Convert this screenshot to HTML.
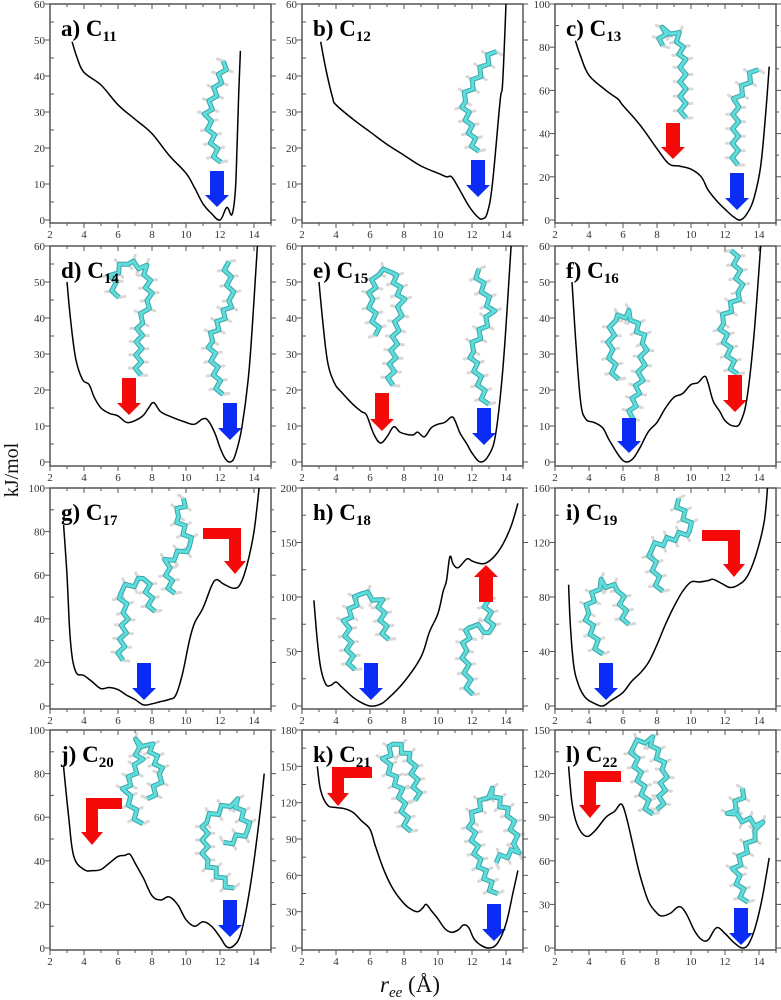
<!DOCTYPE html>
<html><head><meta charset="utf-8"><style>
html,body{margin:0;padding:0;background:#fff;}
svg{display:block;}
text{font-family:"Liberation Serif",serif;}
</style></head><body>
<svg id="fig" width="781" height="1000" viewBox="0 0 781 1000" xmlns="http://www.w3.org/2000/svg">
<text x="0" y="0" transform="translate(18,470) rotate(-90)" font-size="20" text-anchor="middle" fill="#111">kJ/mol</text>
<text x="410" y="992" font-size="23" text-anchor="middle" fill="#111"><tspan font-style="italic">r</tspan><tspan font-style="italic" font-size="15" dy="5">ee</tspan><tspan dy="-5"> (Å)</tspan></text>
</svg>
<script>
// ---- data (x in Å, y in kJ/mol) ----
const panelLabels = ["a","b","c","d","e","f","g","h","i","j","k","l"];
const chainLengths = ["11","12","13","14","15","16","17","18","19","20","21","22"];
const yMaxes = [60,60,100,60,60,60,100,200,160,100,180,150];
const yMajorSteps = [10,10,20,10,10,10,20,50,40,20,30,30];
const xTicks = [2,4,6,8,10,12,14];
const xA=[3.3,3.6,4,5,6,7,8,9,10,10.5,11,11.5,12,12.4,12.7,12.9,13.0,13.1,13.2];
const yA=[49.5,45,41,37.5,32,28,24,18,13,9,4.5,1.8,0,3.5,1.5,8,20,35,47];
const xB=[3.1,3.4,3.8,4,5,6,7,8,9,10,10.5,10.8,11.2,11.8,12.3,12.6,12.9,13.2,13.65,13.8,14.0];
const yB=[49.5,42,34,32,28,24.5,21,18,15,13,12,12,9,4,1,0.3,2,10,33,38,60];
const xC=[3.2,3.5,4,5,5.7,6,7,8,8.7,9.3,10,10.6,11,11.5,12,12.5,12.9,13.3,13.7,14.1,14.4,14.6];
const yC=[83,76,67,60,56,53,44,33,26,25,23.5,20,14,9,5,1.5,0,3,10,25,50,71];
const xD=[3.0,3.2,3.5,3.9,4.3,4.6,5,5.5,6,6.5,7,7.5,7.8,8.1,8.5,9,10,10.5,11,11.3,11.7,12,12.3,12.6,12.9,13.3,13.7,14.0,14.2];
const yD=[50,40,29,23,21.5,18,15,13.5,12.8,11,11.5,13,15,16.5,14,12.8,11,10.5,12,11.5,8,4,1,0,2,10,25,45,60];
const xE=[3.0,3.2,3.5,3.9,4.3,5,5.5,5.8,6.2,6.6,7,7.4,7.8,8.5,8.8,9.2,9.6,10,10.4,10.8,11,11.3,11.7,12,12.5,13,13.4,13.8,14.1,14.3];
const yE=[50,40,28,22,19.5,16,14,13,8,5.3,7,9.8,8.2,7.5,8.3,7,9.5,10.5,11,12.5,11.5,8,5,2.5,0,2,8,25,45,60];
const xF=[3.0,3.2,3.5,3.8,4.3,4.8,5.2,5.8,6.2,6.6,7,7.5,8,8.5,9,9.5,10,10.4,10.8,11,11.3,11.7,12,12.5,12.9,13.3,13.7,14.1];
const yF=[50,35,17,12,11,9.5,6,1.5,0,1,4,8.5,11,15,18,19,21.5,22,23.8,22,17,14,11.5,10,11,18,35,60];
const xG=[2.8,3,3.2,3.5,4,4.5,5,5.5,6,6.5,7,7.5,8,8.5,9,9.4,9.8,10.2,10.5,11,11.5,11.8,12.2,12.8,13.2,13.6,14,14.3];
const yG=[83,60,30,16,14,11,8,8.5,7.5,5,3,0.5,1,2,3,5,15,30,38,45,55,58,56,54,56,65,80,100];
const xH=[2.7,2.9,3.1,3.4,3.7,4,4.3,5,5.5,6,6.5,7,8,9,9.5,10,10.3,10.5,10.7,10.9,11.2,11.7,12,12.4,12.8,13.3,13.8,14.3,14.7];
const yH=[97,60,35,20,19,22,18,8,3,0,1,6,22,45,68,85,105,115,137,130,127,135,133,131,131,137,148,165,186];
const xI=[2.8,2.9,3.1,3.4,3.8,4.3,4.8,5.3,6,6.5,7,7.5,8,8.5,9,9.5,10,10.5,11,11.3,11.8,12.3,12.8,13.3,13.8,14.3,14.5];
const yI=[89,60,30,15,6,2,0,4,10,18,24,32,45,60,73,84,91,91,92,93,90,87,89,95,110,135,160];
const xJ=[2.8,3.1,3.4,4,4.5,5,5.5,6,6.4,6.7,7,7.5,8,8.5,9,9.5,10,10.5,11,11.5,12,12.4,12.8,13.2,13.6,14.0,14.4,14.6];
const yJ=[83,60,42,36,35.5,36,39,42,42.5,43,39,32,24,22,23.5,20,13,10,12,10,5,0.5,1,6,20,40,65,80];
const xK=[2.9,3.1,3.5,4,4.5,5,5.5,6,6.3,6.8,7.3,7.8,8.3,8.8,9.1,9.3,9.6,10,10.4,10.8,11.2,11.5,11.8,12.1,12.5,13,13.5,14,14.4,14.7];
const yK=[150,130,118,116,115,112,105,98,85,65,50,40,33,30,33,36,31,24,16,13,15,19,17,8,2.5,0,4,20,45,64];
const xL=[2.8,3,3.3,3.8,4.3,5,5.5,5.9,6.2,6.6,7,7.5,8,8.3,8.8,9.3,9.7,10.2,10.6,11,11.5,12,12.5,13,13.4,13.8,14.2,14.6];
const yL=[125,100,85,77,80,90,94,99,90,70,50,32,24,22,24,28.5,24,12,6,5.5,14,10,4,0,3,15,35,62];
const seriesX=[xA,xB,xC,xD,xE,xF,xG,xH,xI,xJ,xK,xL];
const seriesY=[yA,yB,yC,yD,yE,yF,yG,yH,yI,yJ,yK,yL];

// ---- layout ----
const NS="http://www.w3.org/2000/svg";
const svg=document.getElementById('fig');
const colLeft=[50,302,555], boxW=221;
const rowTop=[4,246,488,730], rowZero=[220,462,706,948], rowBot=[223,466,709,950];
function mk(tag,attrs,parent){const e=document.createElementNS(NS,tag);for(const k in attrs)e.setAttribute(k,attrs[k]);(parent||svg).appendChild(e);return e;}

const blueArrows=[[217,171,207],[478,160,197],[737,173,210],[230,403,440],[484,408,445],[629,418,453],[144,663,700],[371,663,700],[606,663,700],[230,900,937],[494,904,941],[741,908,945]];
const redDown=[[673,123,159],[129,378,415],[382,393,431],[735,375,412]];
const molecules=[
 [[218,163],[207,115],[226,62]],
 [[476,152],[463,100],[494,50]],
 [[683,118],[683,60],[678,35],[665,28],[660,45]],
 [[735,165],[736,100],[756,68]],
 [[138,375],[140,322],[150,300],[146,268],[126,262],[112,275],[116,298]],
 [[220,395],[210,340],[232,300],[226,262]],
 [[390,385],[396,330],[402,300],[392,270],[376,274],[370,300],[378,335]],
 [[486,405],[471,350],[492,312],[476,270]],
 [[630,418],[640,380],[645,342],[630,313],[613,320],[610,350],[616,380]],
 [[735,375],[721,322],[741,292],[734,250]],
 [[120,660],[126,612],[120,590],[146,578],[152,612]],
 [[172,594],[166,562],[192,545],[176,515],[186,500]],
 [[352,670],[346,622],[360,592],[380,600],[386,640]],
 [[470,695],[464,650],[470,625],[492,632],[486,600]],
 [[600,655],[586,612],[600,582],[620,590],[626,625]],
 [[660,592],[650,548],[692,530],[676,500]],
 [[140,825],[125,790],[140,760],[135,742],[150,745],[162,775],[150,800]],
 [[232,890],[205,860],[205,820],[235,800],[250,830],[225,845]],
 [[408,832],[400,790],[385,760],[395,742],[412,760],[418,800]],
 [[495,895],[478,860],[470,820],[490,790],[510,815],[518,850],[495,860]],
 [[650,815],[640,780],[632,745],[650,738],[665,770],[660,810]],
 [[745,903],[735,870],[748,845],[762,825],[730,815],[745,790]]
];
function drawMol(pts,i){
 const g=mk('g',{});
 
 
 let s=[];const step=7;
 for(let k=0;k<pts.length-1;k++){const [x1,y1]=pts[k],[x2,y2]=pts[k+1];const L=Math.hypot(x2-x1,y2-y1);const n=Math.max(1,Math.round(L/step));for(let j=0;j<n;j++){const t=j/n;s.push([x1+(x2-x1)*t,y1+(y2-y1)*t,(y2-y1)/L,-(x2-x1)/L]);}}
 const last=pts[pts.length-1],pl=pts[pts.length-2];const Ll=Math.hypot(last[0]-pl[0],last[1]-pl[1]);s.push([last[0],last[1],(last[1]-pl[1])/Ll,-(last[0]-pl[0])/Ll]);
 const z=s.map((p,j)=>{const o=(j%2?3:-3);return [p[0]+p[2]*o,p[1]+p[3]*o,p[2],p[3],o];});
 z.forEach(p=>{const o=p[4]>0?6:-6;mk('line',{x1:p[0],y1:p[1],x2:p[0]+p[2]*o,y2:p[1]+p[3]*o,stroke:'#d8d8d8','stroke-width':3,'stroke-linecap':'round'},g);});
 const d=z.map((p,j)=>(j?'L':'M')+p[0].toFixed(1)+','+p[1].toFixed(1)).join('');
 mk('path',{d:d,fill:'none',stroke:'#3aa6a6','stroke-width':5,'stroke-linejoin':'round'},g);
 mk('path',{d:d,fill:'none',stroke:'#5fdcdc','stroke-width':3,'stroke-linejoin':'round'},g);
}
molecules.forEach(drawMol);

function downArrow(cx,top,tip,color,name){
 const hh=12,sw=7,hw=12;
 const p=mk('polygon',{points:`${cx-sw},${top} ${cx+sw},${top} ${cx+sw},${tip-hh} ${cx+hw},${tip-hh} ${cx},${tip} ${cx-hw},${tip-hh} ${cx-sw},${tip-hh}`,fill:color});
 
 
}
blueArrows.forEach(a=>downArrow(a[0],a[1],a[2],'#0a2cf5','blue-arrow'));
redDown.forEach(a=>downArrow(a[0],a[1],a[2],'#f50a0a','red-arrow'));
(function(){const cx=486,bot=602,tip=565;const p=mk('polygon',{points:`${cx-7},${bot} ${cx+7},${bot} ${cx+7},${tip+12} ${cx+12},${tip+12} ${cx},${tip} ${cx-12},${tip+12} ${cx-7},${tip+12}`,fill:'#f50a0a'});

})();
const bent=[[203,241,528,574,'R'],[702,740,530,577,'R'],[86,122,798,845,'L'],[332,372,767,806,'L'],[584,621,771,818,'L']];
bent.forEach(b=>{const [l,r,t,tip,side]=b;const th=11,sw=12;const sl=side==='R'?r-sw:l,sr=sl+sw,cx=(sl+sr)/2;
 const p=mk('polygon',{points: side==='R'?
  `${l},${t} ${r},${t} ${sr},${tip-13} ${cx+11},${tip-13} ${cx},${tip} ${cx-11},${tip-13} ${sl},${tip-13} ${sl},${t+th} ${l},${t+th}`:
  `${l},${t} ${r},${t} ${r},${t+th} ${sr},${t+th} ${sr},${tip-13} ${cx+11},${tip-13} ${cx},${tip} ${cx-11},${tip-13} ${sl},${tip-13}`,fill:'#f50a0a'});
 
 });

function smoothPath(P){
 let d='M'+P[0][0].toFixed(1)+','+P[0][1].toFixed(1);
 for(let k=0;k<P.length-1;k++){
  const p0=P[Math.max(0,k-1)],p1=P[k],p2=P[k+1],p3=P[Math.min(P.length-1,k+2)];
  const t=0.18;
  const c1=[p1[0]+(p2[0]-p0[0])*t,p1[1]+(p2[1]-p0[1])*t];
  const c2=[p2[0]-(p3[0]-p1[0])*t,p2[1]-(p3[1]-p1[1])*t];
  d+='C'+c1[0].toFixed(1)+','+c1[1].toFixed(1)+' '+c2[0].toFixed(1)+','+c2[1].toFixed(1)+' '+p2[0].toFixed(1)+','+p2[1].toFixed(1);
 }
 return d;
}

for(let i=0;i<12;i++){
 const c=i%3,r=Math.floor(i/3);
 const L=colLeft[c],R=L+boxW,T=rowTop[r],Z=rowZero[r],B=rowBot[r];
 const ymax=yMaxes[i];
 const sx=v=>L+(v-2)*17;
 const sy=v=>Z-v/ymax*(Z-T);
 const g=mk('g',{});
 
 
 const box=mk('rect',{x:L,y:T,width:boxW,height:B-T,fill:'none',stroke:'#555','stroke-width':1.5},g);
 
 
 for(let v=2;v<=15;v++){const x=sx(v);const major=v%2===0;
  mk('line',{x1:x,y1:B,x2:x,y2:B+(major?5:3),stroke:'#555','stroke-width':1},g);
  mk('line',{x1:x,y1:T,x2:x,y2:T+(major?5:3),stroke:'#555','stroke-width':1},g);}
 xTicks.forEach(v=>{const t=mk('text',{x:sx(v),y:B+15,'font-size':11,'text-anchor':'middle',fill:'#333'},g);t.textContent=v;
  
  });
 const st=yMajorSteps[i];
 for(let v=0;v<=ymax+1e-9;v+=st/2){const y=sy(v);const major=Math.abs(v/st-Math.round(v/st))<1e-6;
  mk('line',{x1:L-(major?5:0),y1:y,x2:L+(major?0:4),y2:y,stroke:'#555','stroke-width':1},g);
  mk('line',{x1:R,y1:y,x2:R+(major?5:3),y2:y,stroke:'#555','stroke-width':1},g);
  if(major){const t=mk('text',{x:L-5,y:y+4,'font-size':11,'text-anchor':'end',fill:'#333'},g);t.textContent=Math.round(v);
   
   }}
 const xs=seriesX[i],ys=seriesY[i];
 const P=xs.map((x,k)=>[sx(x),sy(ys[k])]);
 const path=mk('path',{d:smoothPath(P),fill:'none',stroke:'#000','stroke-width':1.5,'stroke-linejoin':'round'},g);
 
 
 const t=mk('text',{x:L+11,y:T+32,'font-size':23,'font-weight':'bold',fill:'#000'},g);
 
 
 t.innerHTML=panelLabels[i]+') C<tspan font-size="15" dy="5">'+chainLengths[i]+'</tspan>';
}
</script>
</body></html>
